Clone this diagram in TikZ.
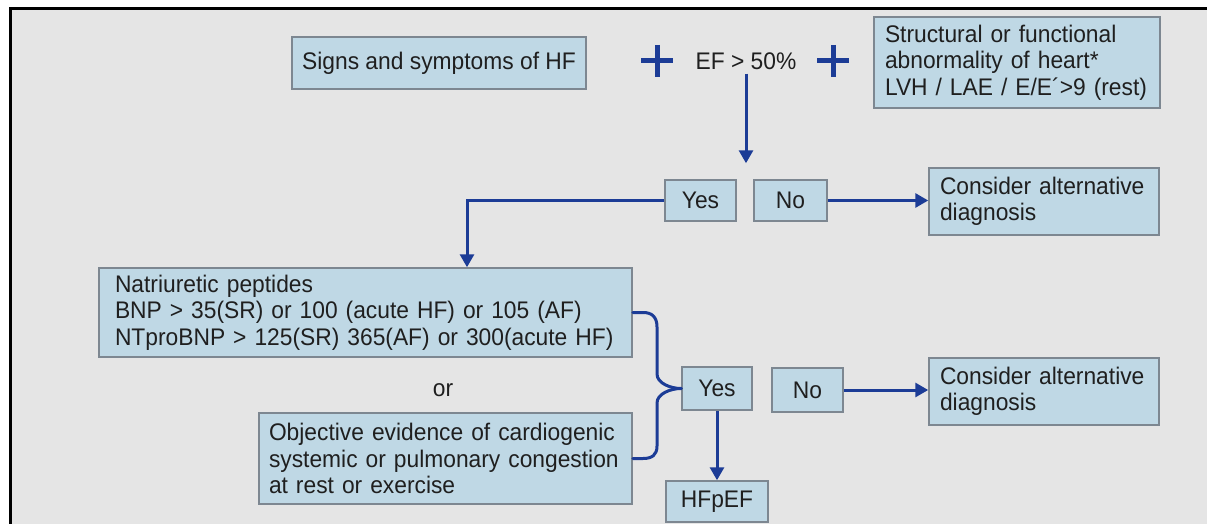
\documentclass[tikz,border=0pt]{standalone}
\usepackage{fontspec}
\setmainfont[FakeStretch=0.95]{Liberation Sans}
\usetikzlibrary{arrows.meta}
\definecolor{bggray}{RGB}{229,229,229}
\definecolor{boxfill}{RGB}{191,216,229}
\definecolor{boxline}{RGB}{125,135,145}
\definecolor{flow}{RGB}{28,60,150}
\newcommand\mynohyph{\hyphenpenalty=10000\relax\exhyphenpenalty=10000\relax}
\begin{document}
\begin{tikzpicture}[x=1pt,y=-1pt,
  every node/.style={font=\fontsize{24}{26.5}\selectfont\mynohyph, text=black!88},
  box/.style={draw=boxline, line width=1.5pt, fill=boxfill, inner ysep=0pt, align=left},
  cbox/.style={draw=boxline, line width=1.5pt, fill=boxfill, inner sep=0pt, align=center},
  conn/.style={draw=flow, line width=3pt},
  arr/.style={conn, -{Triangle[width=14pt,length=13pt]}},
  plussign/.style={draw=flow, line width=5pt}
]
\useasboundingbox (0,0) rectangle (1207,524);
\fill[white] (0,0) rectangle (1207,524);
\fill[bggray] (10,9) rectangle (1207,524);
\draw[black, line width=3pt] (10,524) -- (10,9) -- (1207,9);

% nodes
\node[cbox, minimum width=294pt, minimum height=52pt] (sign) at (439,63) {Signs and symptoms of HF};
\node[inner sep=2pt] (ef) at (746,61) {EF > 50\%};
\node[box, inner xsep=11pt, text width=264pt, minimum height=91pt] (struct) at (1017,62.5)
  {Structural or functional\\abnormality of heart*\\LVH / LAE / E/E\textasciiacute>9 (rest)};
\node[cbox, minimum width=71pt, minimum height=41pt] (yes1) at (700.5,200.5) {Yes};
\node[cbox, minimum width=73pt, minimum height=41pt] (no1) at (790.5,200.5) {No};
\node[box, inner xsep=11pt, text width=208pt, minimum height=67pt] (cons1) at (1044,201.5)
  {Consider alternative\\diagnosis};
\node[box, inner xsep=16pt, text width=501pt, minimum height=89pt] (nat) at (365.5,312.5)
  {Natriuretic peptides\\BNP > 35(SR) or 100 (acute HF) or 105 (AF)\\NTproBNP > 125(SR) 365(AF) or 300(acute HF)};
\node (or) at (443,390) {or};
\node[box, inner xsep=10pt, text width=353pt, minimum height=91pt] (obj) at (445.5,458.5)
  {Objective evidence of cardiogenic\\systemic or pulmonary congestion\\at rest or exercise};
\node[cbox, minimum width=70pt, minimum height=43pt] (yes2) at (717,388.5) {Yes};
\node[cbox, minimum width=71pt, minimum height=44pt] (no2) at (807.5,390) {No};
\node[box, inner xsep=11pt, text width=208pt, minimum height=67pt] (cons2) at (1044,391.5)
  {Consider alternative\\diagnosis};
\node[cbox, minimum width=102pt, minimum height=41pt] (hf) at (717,501.5) {HFpEF};

% plus signs
\draw[plussign] (657,45) -- (657,77) (641,61) -- (673,61);
\draw[plussign] (833,45) -- (833,77) (817,61) -- (849,61);

% connectors
\draw[arr, shorten <=2pt, shorten >=16pt] (ef.south) -- (ef.south |- yes1.north);
\draw[arr] (no1.east) -- (no1.east -| cons1.west);
\coordinate (k) at (467,0);
\draw[arr] (yes1.west) -| (nat.north -| k);
\draw[arr] (no2.east) -- (no2.east -| cons2.west);
\draw[arr] (yes2.south) -- (hf.north);

% brace
\draw[conn, line cap=round, line join=round] (nat.east) -- (643,312.5)
  .. controls (652,312.5) and (657,317) .. (657,327) -- (657,374)
  .. controls (657,383) and (670,388.5) .. (yes2.west);
\draw[conn, line cap=round, line join=round] (yes2.west)
  .. controls (670,388.5) and (657,394) .. (657,403) -- (657,446)
  .. controls (657,455) and (652,458.5) .. (643,458.5) -- (obj.east);
\end{tikzpicture}
\end{document}
